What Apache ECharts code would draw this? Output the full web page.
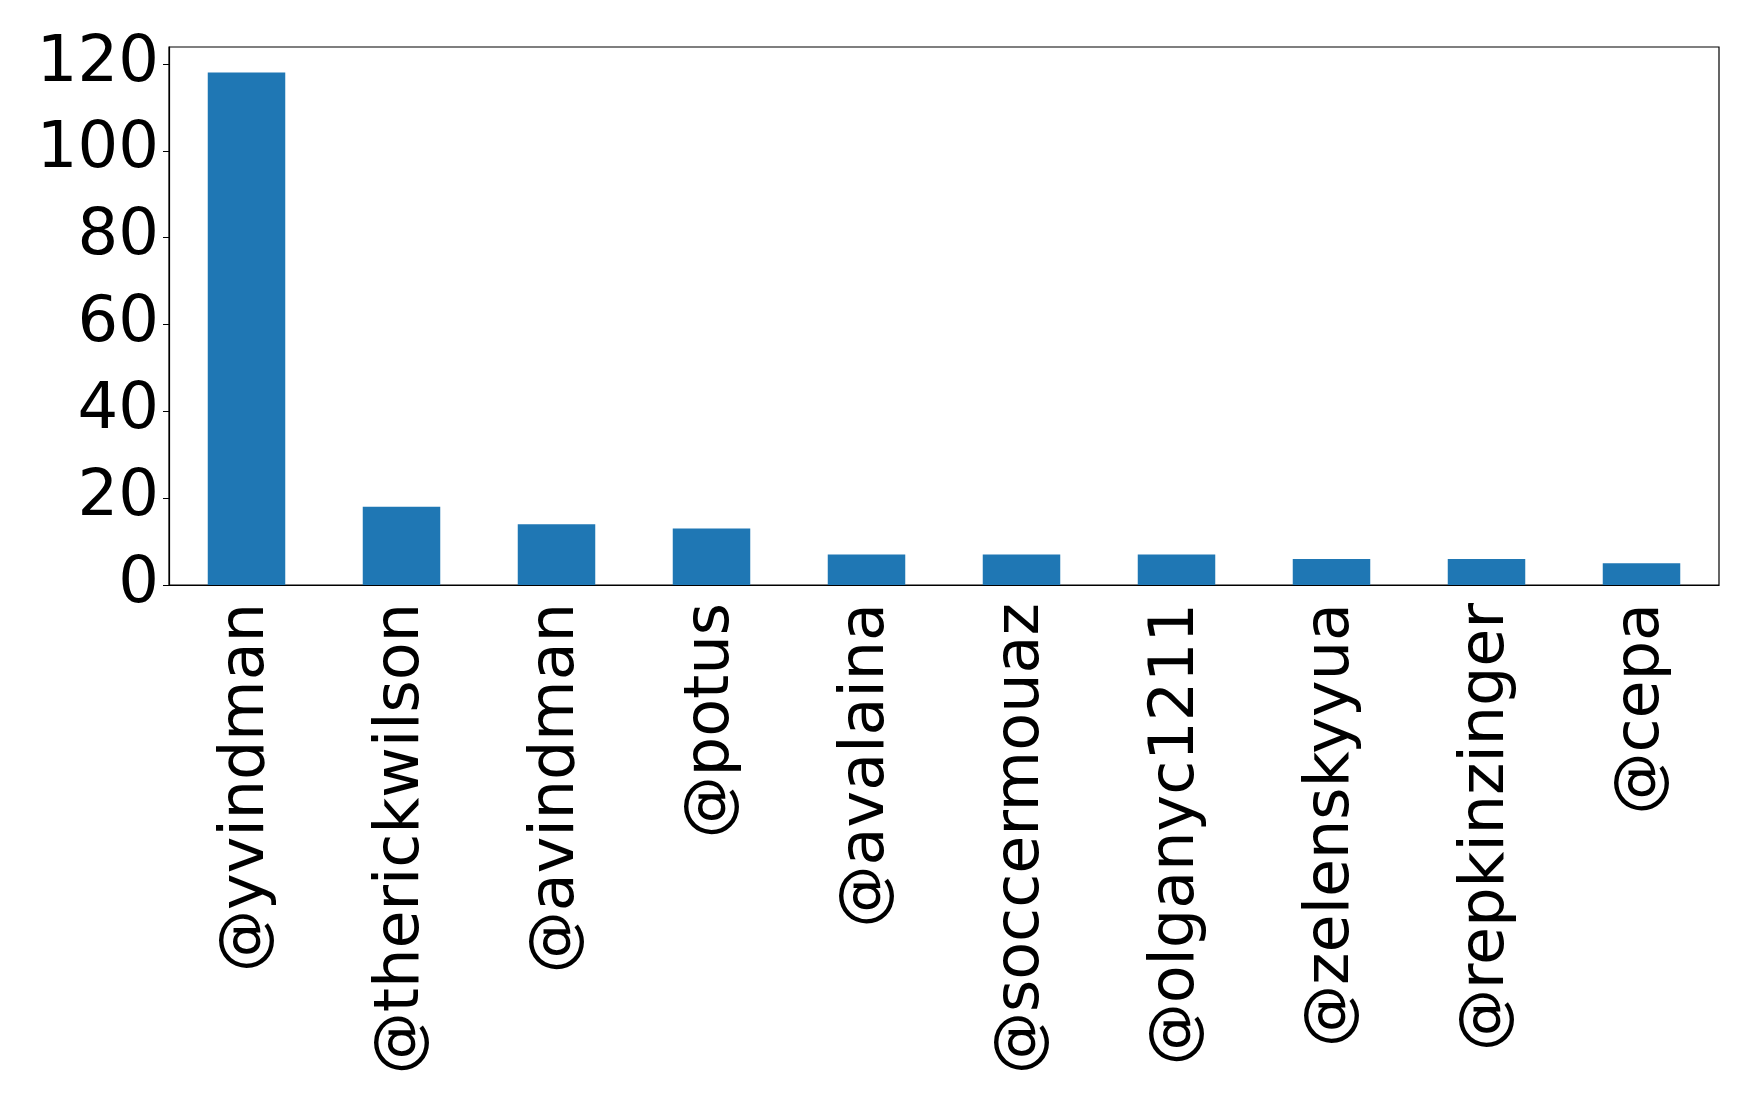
<!DOCTYPE html>
<html>
<head>
<meta charset="utf-8">
<script src="https://cdn.jsdelivr.net/npm/echarts@6/dist/echarts.min.js"></script>
<style>
  html, body { margin: 0; padding: 0; background: #fff; }
  #chart { width: 1758px; height: 1110px; }
</style>
</head>
<body>
<div id="chart"></div>
<script>
// 数据
var users = ['@yvindman', '@therickwilson', '@avindman', '@potus', '@avalaina',
  '@soccermouaz', '@olganyc1211', '@zelenskyyua', '@repkinzinger', '@cepa'];
var counts = [118, 18, 14, 13, 7, 7, 7, 6, 6, 5];
var yTicks = [0, 20, 40, 60, 80, 100, 120];

var font = 'DejaVu Sans';
var yMax = Math.max.apply(null, counts) * 1.05; // matplotlib 默认留白

var option = {
  backgroundColor: '#fff',
  animation: false,
  grid: { // 位置
    left: 169,
    right: 39,
    top: 47,
    bottom: 525,
    show: true,
    borderColor: '#000',
    borderWidth: 1.2,
    containLabel: false
  },
  xAxis: {
    type: 'category',
    data: users,
    boundaryGap: true,
    axisLine: { lineStyle: { color: '#000', width: 1.2 } },
    axisTick: { alignWithLabel: true, length: 6, lineStyle: { color: '#000' } },
    axisLabel: {
      rotate: 90,
      interval: 0,
      margin: 18,
      color: '#000',
      fontSize: 62,
      fontFamily: font
    },
    splitLine: { show: false }
  },
  yAxis: {
    type: 'value',
    min: 0,
    max: yMax,
    interval: 20,
    axisLine: { show: true, lineStyle: { color: '#000', width: 1.2 } },
    axisTick: { show: true, length: 6, lineStyle: { color: '#000' } },
    axisLabel: {
      margin: 10,
      color: '#000',
      fontSize: 64,
      fontFamily: font,
      showMaxLabel: false,
      formatter: function (v) {
        return yTicks.indexOf(v) >= 0 ? String(v) : '';
      }
    },
    splitLine: { show: false }
  },
  series: [{
    type: 'bar',
    data: counts,
    barWidth: '50%',
    itemStyle: { color: '#1f77b4' }
  }]
};

var myChart = echarts.init(document.getElementById('chart'));
myChart.setOption(option);
</script>
</body>
</html>
